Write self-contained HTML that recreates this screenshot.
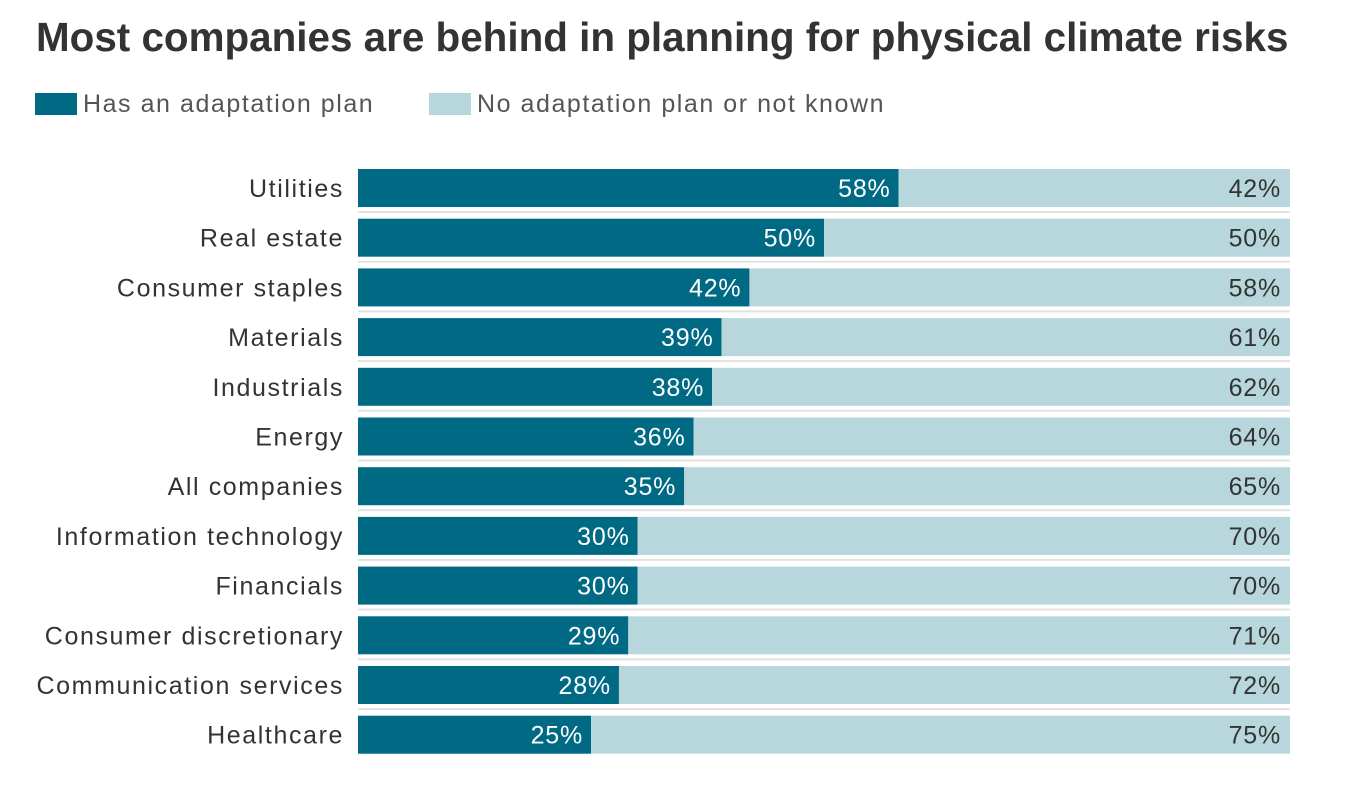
<!DOCTYPE html>
<html><head><meta charset="utf-8"><style>
body{margin:0;background:#fff;width:1349px;height:792px;overflow:hidden;font-family:"Liberation Sans",sans-serif;}
h1{position:absolute;left:36px;top:14px;margin:0;font-size:40.4px;font-weight:bold;color:#333;letter-spacing:0px;white-space:nowrap}
.leg{position:absolute;top:90px;font-size:25px;color:#555;letter-spacing:1.55px;white-space:nowrap}
.sw{display:inline-block;width:42px;height:22px;vertical-align:-3px;margin-right:6px}
</style></head><body>
<h1>Most companies are behind in planning for physical climate risks</h1>
<div class="leg" style="left:35px"><span class="sw" style="background:#006a85"></span>Has an adaptation plan</div>
<div class="leg" style="left:429px"><span class="sw" style="background:#b7d7dd"></span>No adaptation plan or not known</div>
<svg id="chart" width="1349" height="792" style="position:absolute;left:0;top:0"></svg>
<script>
const categories=["Utilities","Real estate","Consumer staples","Materials","Industrials","Energy","All companies","Information technology","Financials","Consumer discretionary","Communication services","Healthcare"];
const hasPlan=[58,50,42,39,38,36,35,30,30,29,28,25];
const noPlan=[42,50,58,61,62,64,65,70,70,71,72,75];
const svg=document.getElementById('chart');
const NS='http://www.w3.org/2000/svg';
const x0=358,x1=1290,top0=169,pitch=49.7,bh=38;
const xs=v=>x0+(x1-x0)*v/100;
const ys=i=>top0+i*pitch;
function mk(t,a){const e=document.createElementNS(NS,t);for(const k in a)e.setAttribute(k,a[k]);svg.appendChild(e);return e;}
categories.forEach((c,i)=>{
  const y=ys(i);
  const tot=hasPlan[i]+noPlan[i];
  const xa=xs(hasPlan[i]*100/tot);
  if(i<categories.length-1){const s=mk('rect',{x:x0,y:y+bh+4,width:x1-x0,height:2,fill:'#e2e2e2'});
  
  }
  const b1=mk('rect',{x:x0,y:y,width:xa-x0,height:bh,fill:'#006a85'});
  
  
  const b2=mk('rect',{x:xa,y:y,width:x1-xa,height:bh,fill:'#b7d7dd'});
  
  
  const l=mk('text',{x:344,y:y+bh/2+9,'text-anchor':'end','font-size':25,fill:'#333','letter-spacing':'1.6px'});l.textContent=c;
  
  
  const v1=mk('text',{x:xa-8,y:y+bh/2+9,'text-anchor':'end','font-size':25,fill:'#fff','letter-spacing':'0.8px'});v1.textContent=hasPlan[i]+'%';
  
  
  const v2=mk('text',{x:x1-9,y:y+bh/2+9,'text-anchor':'end','font-size':25,fill:'#333','letter-spacing':'0.8px'});v2.textContent=noPlan[i]+'%';
  
  
});
</script>
</body></html>
